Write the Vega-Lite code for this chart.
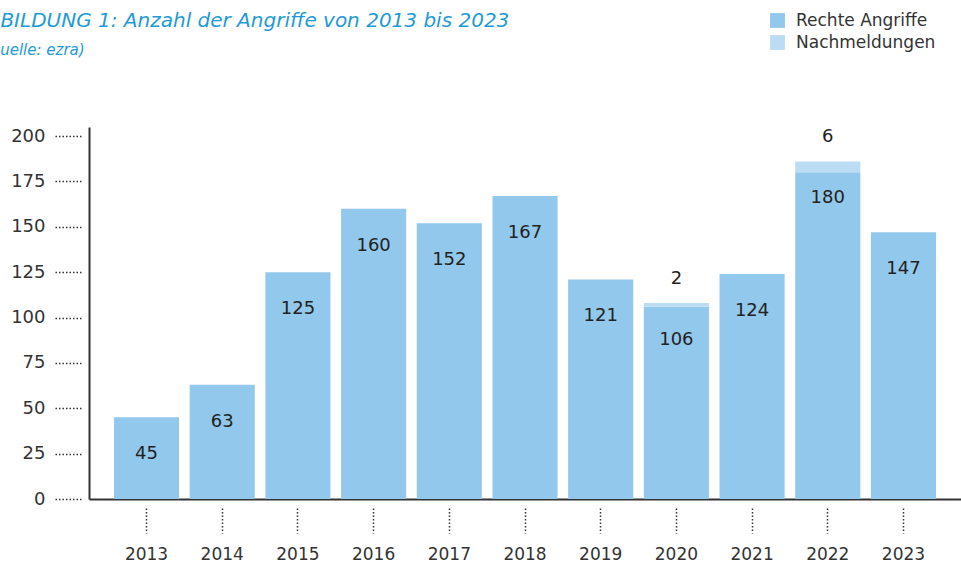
{
  "$schema": "https://vega.github.io/schema/vega-lite/v6.json",
  "width": 872,
  "height": 372,
  "autosize": {"type": "none"},
  "padding": {"left": 89, "top": 127, "right": 0, "bottom": 64},
  "background": "white",
  "config": {
    "view": {"stroke": null},
    "font": "DejaVu Sans"
  },
  "title": {
    "text": "ABBILDUNG 1: Anzahl der Angriffe von 2013 bis 2023",
    "subtitle": "\u200b\u00a0\u00a0(Quelle: ezra)",
    "anchor": "start",
    "frame": "group",
    "dx": -116,
    "offset": -46,
    "font": "DejaVu Sans",
    "fontSize": 20,
    "fontStyle": "italic",
    "fontWeight": "normal",
    "color": "#1E9BD7",
    "subtitleFont": "DejaVu Sans",
    "subtitleFontSize": 15,
    "subtitleFontStyle": "italic",
    "subtitleColor": "#1E9BD7",
    "subtitlePadding": 12
  },
  "data": {
    "values": [
      {"year": "2013", "type": "Rechte Angriffe", "value": 45},
      {"year": "2014", "type": "Rechte Angriffe", "value": 63},
      {"year": "2015", "type": "Rechte Angriffe", "value": 125},
      {"year": "2016", "type": "Rechte Angriffe", "value": 160},
      {"year": "2017", "type": "Rechte Angriffe", "value": 152},
      {"year": "2018", "type": "Rechte Angriffe", "value": 167},
      {"year": "2019", "type": "Rechte Angriffe", "value": 121},
      {"year": "2020", "type": "Rechte Angriffe", "value": 106},
      {"year": "2020", "type": "Nachmeldungen", "value": 2},
      {"year": "2021", "type": "Rechte Angriffe", "value": 124},
      {"year": "2022", "type": "Rechte Angriffe", "value": 180},
      {"year": "2022", "type": "Nachmeldungen", "value": 6},
      {"year": "2023", "type": "Rechte Angriffe", "value": 147}
    ]
  },
  "transform": [
    {"joinaggregate": [{"op": "sum", "field": "value", "as": "total"}], "groupby": ["year"]}
  ],
  "encoding": {
    "x": {
      "field": "year",
      "type": "ordinal",
      "title": null,
      "scale": {"paddingInner": 0.14, "paddingOuter": 0.33},
      "axis": {
        "labelAngle": 0,
        "labelFont": "DejaVu Sans",
        "labelFontSize": 17,
        "labelColor": "#333333",
        "labelPadding": 13,
        "domainColor": "#333333",
        "domainWidth": 2,
        "tickColor": "#333333",
        "tickSize": 34,
        "tickWidth": 1.5,
        "tickDash": [0, 9, 1.5, 2, 1.5, 2, 1.5, 2, 1.5, 2, 1.5, 2, 1.5, 2, 1.5, 2, 1.5, 2, 1.5, 2],
        "tickBand": "center"
      }
    }
  },
  "layer": [
    {
      "mark": {"type": "bar"},
      "encoding": {
        "y": {
          "field": "value",
          "type": "quantitative",
          "stack": "zero",
          "title": null,
          "scale": {"domain": [0, 205], "nice": false},
          "axis": {
            "values": [0, 25, 50, 75, 100, 125, 150, 175, 200],
            "grid": false,
            "labelFont": "DejaVu Sans",
            "labelFontSize": 18,
            "labelColor": "#333333",
            "labelPadding": 10,
            "domainColor": "#333333",
            "domainWidth": 2,
            "tickColor": "#333333",
            "tickSize": 34,
            "tickWidth": 1.5,
            "tickDash": [0, 8, 1.5, 2, 1.5, 2, 1.5, 2, 1.5, 2, 1.5, 2, 1.5, 2, 1.5, 2, 1.5, 2, 1.5, 2]
          }
        },
        "color": {
          "field": "type",
          "type": "nominal",
          "title": null,
          "scale": {
            "domain": ["Rechte Angriffe", "Nachmeldungen"],
            "range": ["#92C8EB", "#BBDCF3"]
          },
          "legend": {
            "orient": "none",
            "legendX": 680,
            "legendY": -115,
            "padding": 0,
            "symbolType": "square",
            "symbolSize": 220,
            "symbolStrokeWidth": 0,
            "symbolOpacity": 1,
            "labelFont": "DejaVu Sans",
            "labelFontSize": 17,
            "labelColor": "#333333",
            "labelOffset": 10,
            "rowPadding": 4
          }
        },
        "order": {"field": "type", "sort": "descending"}
      }
    },
    {
      "transform": [{"filter": "datum.type === 'Rechte Angriffe'"}],
      "mark": {"type": "text", "dy": 37, "fontSize": 18, "font": "DejaVu Sans", "color": "#222222", "baseline": "middle"},
      "encoding": {
        "y": {"field": "total", "type": "quantitative"},
        "text": {"field": "value", "type": "quantitative"}
      }
    },
    {
      "transform": [{"filter": "datum.type === 'Nachmeldungen'"}],
      "mark": {"type": "text", "dy": -24, "fontSize": 18, "font": "DejaVu Sans", "color": "#222222", "baseline": "middle"},
      "encoding": {
        "y": {"field": "total", "type": "quantitative"},
        "text": {"field": "value", "type": "quantitative"}
      }
    }
  ]
}
